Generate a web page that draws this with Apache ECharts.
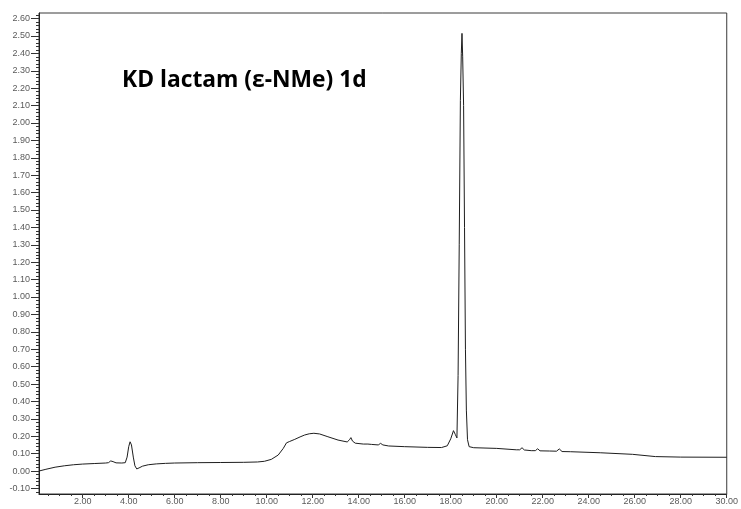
<!DOCTYPE html>
<html>
<head>
<meta charset="utf-8">
<script src="https://cdn.jsdelivr.net/npm/echarts@6/dist/echarts.min.js"></script>
<style>
  html, body { margin: 0; padding: 0; background: #fff; }
  #chart { width: 741px; height: 509px; }
</style>
</head>
<body>
<div id="chart"></div>
<script>
// Retention time (min) and detector response (AU) of the trace
const retentionTime = [
  0.10, 0.40, 0.80, 1.20, 1.60, 2.00, 2.50, 3.00, 3.12, 3.22, 3.32, 3.45, 3.70, 3.85,
  3.93, 4.00, 4.06, 4.12, 4.20, 4.27, 4.35, 4.45, 4.60, 4.85, 5.20, 5.60, 6.00, 7.00,
  8.00, 9.00, 9.60, 9.90, 10.20, 10.50, 10.72, 10.86, 11.00, 11.22, 11.45, 11.65, 11.85,
  12.05, 12.30, 12.66, 13.10, 13.50, 13.60, 13.66, 13.73, 13.85, 14.20, 14.40, 14.47,
  14.55, 14.85, 14.95, 15.05, 15.30, 16.00, 17.00, 17.60, 17.85, 18.00, 18.12, 18.20,
  18.27, 18.32, 18.37, 18.42, 18.46, 18.49, 18.52, 18.56, 18.60, 18.64, 18.68, 18.73,
  18.80, 19.00, 20.00, 20.85, 21.00, 21.10, 21.20, 21.50, 21.68, 21.78, 21.88, 22.30,
  22.60, 22.72, 22.84, 23.20, 24.50, 25.90, 26.90, 28.00, 30.00
];
const absorbance = [
  0.000, 0.010, 0.022, 0.030, 0.036, 0.040, 0.043, 0.046, 0.048, 0.058, 0.054, 0.047, 0.046, 0.048,
  0.080, 0.140, 0.168, 0.150, 0.080, 0.030, 0.012, 0.018, 0.028, 0.036, 0.041, 0.044, 0.046, 0.048,
  0.049, 0.050, 0.052, 0.056, 0.067, 0.092, 0.130, 0.162, 0.170, 0.182, 0.196, 0.207, 0.214,
  0.217, 0.213, 0.197, 0.178, 0.167, 0.180, 0.192, 0.172, 0.160, 0.155, 0.155, 0.163,
  0.153, 0.150, 0.159, 0.150, 0.144, 0.140, 0.136, 0.135, 0.145, 0.185, 0.232, 0.210,
  0.190, 0.550, 1.300, 2.130, 2.400, 2.515, 2.380, 2.100, 1.400, 0.700, 0.350, 0.180,
  0.140, 0.134, 0.130, 0.122, 0.122, 0.134, 0.121, 0.117, 0.117, 0.128, 0.116, 0.115,
  0.114, 0.127, 0.112, 0.111, 0.105, 0.096, 0.083, 0.080, 0.079
];

// Axis tick labels
const timeLabels = [2, 4, 6, 8, 10, 12, 14, 16, 18, 20, 22, 24, 26, 28, 30];
const auLabels = [-0.1, 0.0, 0.1, 0.2, 0.3, 0.4, 0.5, 0.6, 0.7, 0.8, 0.9, 1.0, 1.1, 1.2, 1.3,
  1.4, 1.5, 1.6, 1.7, 1.8, 1.9, 2.0, 2.1, 2.2, 2.3, 2.4, 2.5, 2.6];

const chartTitle = 'KD lactam (ε-NMe) 1d';

// Minor tick positions (every 0.5 min on time, every 0.02 AU on response)
const timeMinor = [];
for (let i = 1; i <= 60; i++) {
  if (i % 4 !== 0) timeMinor.push(i * 0.5);
}
const auMinor = [];
for (let i = -6; i <= 131; i++) {
  if (i % 5 !== 0) auMinor.push(Math.round(i * 2) / 100);
}

const X_MIN = 0.1, X_MAX = 30.0, Y_MIN = -0.132, Y_MAX = 2.632;
const labelStyle = { color: '#5a5a5a', fontSize: 9, fontFamily: 'Liberation Sans, Arial, sans-serif' };

const chart = echarts.init(document.getElementById('chart'), null, { renderer: 'canvas' });
chart.setOption({
  animation: false,
  backgroundColor: '#fff',
  title: {
    text: chartTitle,
    left: 117,
    top: 64,
    textStyle: { fontSize: 22.8, fontWeight: 'bold', color: '#000', fontFamily: 'Open Sans, Liberation Sans, sans-serif' }
  },
  grid: { left: 39, right: 9, top: 13, bottom: 15, show: true, borderColor: '#3a3a3a', borderWidth: 1, backgroundColor: 'transparent' },
  xAxis: [
    {
      type: 'value', min: X_MIN, max: X_MAX, position: 'bottom',
      axisLine: { show: true, onZero: false, lineStyle: { color: '#222', width: 1 } },
      axisTick: { show: true, length: 4, inside: false, customValues: timeLabels, lineStyle: { color: '#333' } },
      axisLabel: { show: true, margin: 3, customValues: timeLabels, formatter: v => v.toFixed(2), ...labelStyle },
      splitLine: { show: false }
    },
    {
      type: 'value', min: X_MIN, max: X_MAX, position: 'bottom', gridIndex: 0,
      axisLine: { show: false, onZero: false },
      axisTick: { show: true, length: 2, customValues: timeMinor, lineStyle: { color: '#333' } },
      axisLabel: { show: false },
      splitLine: { show: false }
    }
  ],
  yAxis: [
    {
      type: 'value', min: Y_MIN, max: Y_MAX, position: 'left',
      axisLine: { show: true, onZero: false, lineStyle: { color: '#222', width: 1 } },
      axisTick: { show: true, length: 8, customValues: auLabels, lineStyle: { color: '#333' } },
      axisLabel: { show: true, margin: 9, customValues: auLabels, formatter: v => v.toFixed(2), ...labelStyle },
      splitLine: { show: false }
    },
    {
      type: 'value', min: Y_MIN, max: Y_MAX, position: 'left', gridIndex: 0,
      axisLine: { show: false, onZero: false },
      axisTick: { show: true, length: 3, customValues: auMinor, lineStyle: { color: '#333' } },
      axisLabel: { show: false },
      splitLine: { show: false }
    }
  ],
  series: [{
    type: 'line',
    xAxisIndex: 0,
    yAxisIndex: 0,
    data: retentionTime.map((t, i) => [t, absorbance[i]]),
    showSymbol: false,
    symbol: 'none',
    smooth: false,
    lineStyle: { color: '#1e1e1e', width: 1 }
  }]
});
</script>
</body>
</html>
